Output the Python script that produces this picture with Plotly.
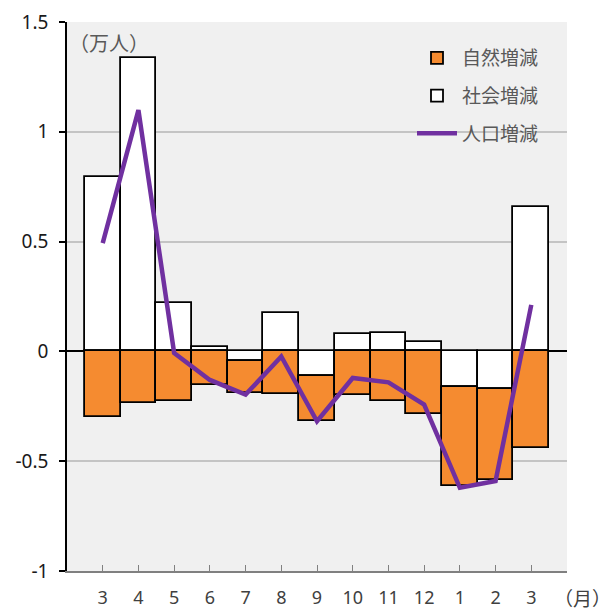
import plotly.graph_objects as go

months = ["3", "4", "5", "6", "7", "8", "9", "10", "11", "12", "1", "2", "3"]
natural = [-0.300, -0.235, -0.227, -0.151, -0.144, -0.194, -0.208, -0.197, -0.225, -0.283, -0.452, -0.416, -0.439]
social = [0.795, 1.334, 0.220, 0.020, -0.045, 0.177, -0.110, 0.080, 0.085, 0.045, -0.162, -0.170, 0.658]
population = [0.493, 1.099, -0.007, -0.130, -0.197, -0.023, -0.318, -0.121, -0.141, -0.242, -0.621, -0.590, 0.212]

xpos = list(range(1, len(months) + 1))

JP = "Noto Sans CJK JP"
NUM = "Noto Sans"
GRAY_TXT = "#595959"

fig = go.Figure()
fig.add_trace(go.Bar(
    x=xpos, y=social, name="社会増減", width=1.0,
    marker=dict(color="#ffffff", line=dict(color="#000000", width=1.8)),
    legendrank=2, legendgroup="b",
))
fig.add_trace(go.Bar(
    x=xpos, y=natural, name="自然増減", width=1.0,
    marker=dict(color="#F58B30", line=dict(color="#000000", width=1.8)),
    legendrank=1, legendgroup="a",
))
fig.add_trace(go.Scatter(
    x=xpos, y=population, name="人口増減", mode="lines",
    line=dict(color="#7030A0", width=4.5),
    legendrank=3, legendgroup="c",
))

fig.update_layout(
    width=604, height=603,
    margin=dict(l=59, r=45, t=14, b=40, autoexpand=False),
    barmode="relative", bargap=0,
    paper_bgcolor="#ffffff", plot_bgcolor="#f0f0f0",
    showlegend=True,
    legend=dict(
        x=0.69, y=0.969, xanchor="left", yanchor="top",
        bgcolor="rgba(0,0,0,0)",
        font=dict(family=JP, size=19, color=GRAY_TXT),
        tracegroupgap=10, traceorder="grouped",
        itemwidth=40,
    ),
    xaxis=dict(
        range=[0, 14],
        tickmode="array",
        tickvals=xpos,
        ticktext=months,
        ticks="inside", ticklen=6, tickcolor="#808080", tickwidth=1.3,
        showline=True, linecolor="#808080", linewidth=1.5,
        showgrid=False, zeroline=False,
        tickfont=dict(family=NUM, size=18, color="#404040"),
        ticklabelstandoff=10,
        automargin=False,
        fixedrange=True,
    ),
    yaxis=dict(
        range=[-1, 1.5],
        tickmode="array",
        tickvals=[-1, -0.5, 0, 0.5, 1, 1.5],
        ticktext=["-1", "-0.5", "0", "0.5", "1", "1.5"],
        ticks="outside", ticklen=6, tickcolor="#000000", tickwidth=1.5,
        showline=True, linecolor="#000000", linewidth=1.5,
        showgrid=True, gridcolor="#c4c4c4", gridwidth=1.5,
        zeroline=True, zerolinecolor="#000000", zerolinewidth=1.5,
        tickfont=dict(family=NUM, size=19, color="#1a1a1a"),
        ticklabelstandoff=7,
        automargin=False,
        fixedrange=True,
    ),
    annotations=[
        dict(text="（万人）", xref="paper", yref="paper", x=0.0, y=0.962,
             xanchor="left", yanchor="middle", showarrow=False,
             font=dict(family=JP, size=20, color=GRAY_TXT)),
        dict(text="（月）", xref="paper", yref="paper", x=1.03, y=-0.048,
             xanchor="center", yanchor="middle", showarrow=False,
             font=dict(family=JP, size=19, color="#404040")),
    ],
)

fig.write_html("out.html")
